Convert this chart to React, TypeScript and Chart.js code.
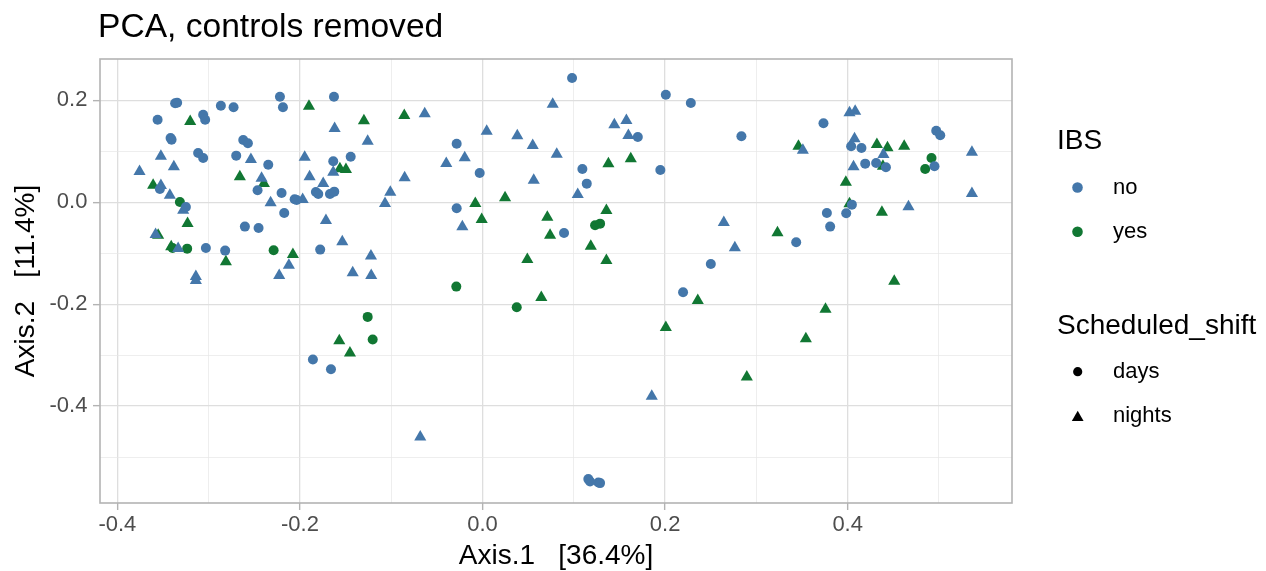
import React, { useEffect, useRef } from "react";
import { Chart, registerables } from "chart.js";
Chart.register(...registerables);

const TITLE = "PCA, controls removed";
const X_TITLE = "Axis.1   [36.4%]";
const Y_TITLE = "Axis.2   [11.4%]";

const X_TICKS = [-0.4, -0.3, -0.2, -0.1, 0, 0.1, 0.2, 0.3, 0.4, 0.5];
const X_LABELS = ["-0.4", "", "-0.2", "", "0.0", "", "0.2", "", "0.4", ""];
const Y_TICKS = [-0.5, -0.4, -0.3, -0.2, -0.1, 0, 0.1, 0.2];
const Y_LABELS = ["", "-0.4", "", "-0.2", "", "0.0", "", "0.2"];
const X_RANGE = [-0.419, 0.58];
const Y_RANGE = [-0.59, 0.281];

const IBS_LEVELS = ["no", "yes"];
const SHIFT_LEVELS = ["days", "nights"];
const IBS_COLORS = ["#4477AA", "#117733"];

// IBS = no, shift = days
const noDays: [number, number][] = [
  [-0.2219, 0.2071], [-0.3367, 0.1941], [-0.3345, 0.1953], [-0.2866, 0.1894], [-0.2727, 0.1863],
  [-0.2186, 0.1863], [-0.3559, 0.162], [-0.306, 0.1718], [-0.3038, 0.162], [-0.3417, 0.1261],
  [-0.3406, 0.1227], [-0.2621, 0.1222], [-0.257, 0.1157], [-0.3115, 0.0967], [-0.306, 0.0869],
  [-0.2698, 0.0914], [-0.2347, 0.0737], [-0.3534, 0.0261], [-0.2464, 0.0235], [-0.2201, 0.0182],
  [-0.1825, 0.0202], [-0.1799, 0.0163], [-0.1671, 0.0163], [-0.1624, 0.0208], [-0.2058, 0.0059],
  [-0.2036, 0.0045], [-0.3249, -0.0092], [-0.2172, -0.021], [-0.2603, -0.0478], [-0.2453, -0.0504],
  [-0.303, -0.0896], [-0.2819, -0.0949], [-0.1778, -0.0929], [-0.1627, 0.2071], [-0.1444, 0.0894],
  [-0.1635, 0.0804], [-0.0283, 0.1149], [-0.0031, 0.0575], [-0.0283, -0.0118], [0.0981, 0.2437],
  [0.2008, 0.211], [0.2282, 0.1947], [0.1701, 0.128], [0.2836, 0.1294], [0.1094, 0.0653],
  [0.1948, 0.0633], [0.1142, 0.0365], [0.0893, -0.0602], [0.2501, -0.121], [0.3735, 0.1549],
  [0.497, 0.1404], [0.5014, 0.1314], [0.4038, 0.1098], [0.4151, 0.1065], [0.4192, 0.0757],
  [0.4312, 0.0771], [0.4419, 0.0686], [0.4951, 0.0706], [0.4046, -0.0047], [0.3772, -0.021],
  [0.3984, -0.0216], [0.3808, -0.0478], [0.3436, -0.0784], [-0.1858, -0.3086], [-0.166, -0.3275],
  [0.2197, -0.1765], [0.1159, -0.5431], [0.1178, -0.5478], [0.1269, -0.5498], [0.1288, -0.551],
];

// IBS = no, shift = nights
const noNights: [number, number][] = [
  [-0.3523, 0.0903], [-0.2537, 0.0839], [-0.1948, 0.0884], [-0.3381, 0.0695], [-0.3757, 0.0603],
  [-0.242, 0.0472], [-0.1894, 0.0499], [-0.1745, 0.0368], [-0.3523, 0.0329], [-0.3425, 0.0139],
  [-0.2321, -0.001], [-0.197, 0.0054], [-0.3279, -0.0155], [-0.1715, -0.0357], [-0.3581, -0.0632],
  [-0.3334, -0.0906], [-0.2121, -0.1234], [-0.2227, -0.1436], [-0.314, -0.1455], [-0.314, -0.1534],
  [0.0769, 0.1923], [-0.0633, 0.1735], [-0.162, 0.1446], [-0.1258, 0.1197], [0.0046, 0.1394],
  [0.0381, 0.1303], [0.055, 0.1113], [0.0813, 0.0943], [-0.1635, 0.059], [-0.0195, 0.0872],
  [-0.0397, 0.076], [-0.0853, 0.048], [0.0561, 0.0433], [-0.101, 0.0197], [-0.1068, -0.0024],
  [-0.0221, -0.0481], [-0.1536, -0.0775], [-0.1222, -0.1057], [-0.1422, -0.1383], [-0.1219, -0.1436],
  [0.1444, 0.1519], [0.1576, 0.1603], [0.1598, 0.1309], [0.1043, 0.0152], [0.2643, -0.0397],
  [0.2764, -0.0893], [0.402, 0.1754], [0.4082, 0.1786], [0.3509, 0.1021], [0.4075, 0.1245],
  [0.4392, 0.0937], [0.5361, 0.0982], [0.4064, 0.0695], [0.5361, 0.0172], [0.4666, -0.0089],
  [-0.0682, -0.4606], [0.1854, -0.3808],
];

// IBS = yes, shift = days
const yesDays: [number, number][] = [
  [-0.3315, 0.0006], [-0.3395, -0.0896], [-0.3235, -0.091], [-0.2288, -0.0941], [0.1233, -0.0451],
  [0.1288, -0.042], [0.4918, 0.0869], [0.4849, 0.0653], [-0.0287, -0.1655], [0.0375, -0.2059],
  [-0.1258, -0.2249], [-0.1203, -0.2694],
];

// IBS = yes, shift = nights
const yesNights: [number, number][] = [
  [-0.1901, 0.1884], [-0.3202, 0.1584], [-0.2658, 0.0499], [-0.2395, 0.0368], [-0.3608, 0.0335],
  [-0.3231, -0.0416], [-0.3553, -0.0646], [-0.341, -0.0873], [-0.2077, -0.1024], [-0.2811, -0.1167],
  [-0.1299, 0.1597], [-0.0857, 0.1701], [-0.1562, 0.0656], [-0.1496, 0.0643], [-0.0079, -0.0024],
  [0.0247, 0.0088], [-0.0009, -0.0338], [0.071, -0.0293], [0.074, -0.0646], [0.0491, -0.1122],
  [0.1379, 0.0754], [0.1624, 0.0852], [0.1357, -0.0161], [0.3231, -0.0599], [0.1186, -0.0861],
  [0.1357, -0.1142], [0.3461, 0.1099], [0.432, 0.1133], [0.4436, 0.1068], [0.4619, 0.1099],
  [0.4386, 0.0707], [0.398, 0.0394], [0.402, -0.003], [0.4375, -0.0195], [0.451, -0.1548],
  [0.0644, -0.1867], [-0.1569, -0.2716], [-0.1452, -0.2959], [0.2358, -0.1926], [0.3757, -0.2097],
  [0.2008, -0.2455], [0.3542, -0.2677], [0.2895, -0.343],
];

const FONT = '"Liberation Sans", Arial, sans-serif';

function drawTriangle(ctx: CanvasRenderingContext2D, x: number, y: number, r: number) {
  ctx.beginPath();
  let rad = 0;
  for (let i = 0; i < 3; i++) {
    const px = x + Math.sin(rad) * r;
    const py = y - Math.cos(rad) * r;
    if (i === 0) ctx.moveTo(px, py);
    else ctx.lineTo(px, py);
    rad += (2 * Math.PI) / 3;
  }
  ctx.closePath();
  ctx.fill();
}

const decorPlugin = {
  id: "decor",
  afterDraw(chart: any) {
    const { ctx, chartArea: a } = chart;
    ctx.save();
    // panel border
    ctx.strokeStyle = "#B3B3B3";
    ctx.lineWidth = 1.6;
    ctx.strokeRect(a.left, a.top, a.right - a.left, a.bottom - a.top);
    // title
    ctx.fillStyle = "#000000";
    ctx.textAlign = "left";
    ctx.textBaseline = "alphabetic";
    ctx.font = `33.6px ${FONT}`;
    ctx.fillText(TITLE, 98, 37);
    // legend: IBS
    ctx.font = `28px ${FONT}`;
    ctx.fillText("IBS", 1057, 149);
    const colorYs = [187.5, 231.7];
    IBS_LEVELS.forEach((lab, i) => {
      ctx.fillStyle = IBS_COLORS[i];
      ctx.beginPath();
      ctx.arc(1077.5, colorYs[i], 5.3, 0, Math.PI * 2);
      ctx.fill();
      ctx.fillStyle = "#000000";
      ctx.font = `22px ${FONT}`;
      ctx.fillText(lab, 1113, colorYs[i] + 6.3);
    });
    // legend: shift
    ctx.font = `28px ${FONT}`;
    ctx.fillText("Scheduled_shift", 1057, 333.5);
    const shapeYs = [371.7, 416];
    SHIFT_LEVELS.forEach((lab, i) => {
      ctx.fillStyle = "#000000";
      if (i === 0) {
        ctx.beginPath();
        ctx.arc(1077.7, shapeYs[i], 4.6, 0, Math.PI * 2);
        ctx.fill();
      } else {
        drawTriangle(ctx, 1077.7, shapeYs[i] + 1.5, 6.8);
      }
      ctx.font = `22px ${FONT}`;
      ctx.fillText(lab, 1113, shapeYs[i] + 6.3);
    });
    ctx.restore();
  },
};

function makeAxis(ticks: number[], labels: string[], range: number[], title: string, isX: boolean) {
  const isMajor = (i: number) => labels[i] !== undefined && labels[i] !== "";
  return {
    type: "linear",
    position: isX ? "bottom" : "left",
    min: range[0],
    max: range[1],
    bounds: "data",
    afterBuildTicks: (scale: any) => {
      scale.ticks = ticks.map((v) => ({ value: v }));
    },
    afterFit: (scale: any) => {
      if (isX) scale.height = 68;
      else scale.width = 100;
    },
    border: { display: false },
    grid: {
      drawOnChartArea: true,
      drawTicks: true,
      tickLength: 7,
      color: (c: any) => (isMajor(c.index) ? "#DEDEDE" : "#E6E6E6"),
      lineWidth: (c: any) => (isMajor(c.index) ? 1.3 : 0.7),
      tickColor: (c: any) => (isMajor(c.index) ? "#B3B3B3" : "rgba(0,0,0,0)"),
      tickWidth: 1.4,
    },
    ticks: {
      autoSkip: false,
      maxRotation: 0,
      minRotation: 0,
      padding: isX ? 3.5 : 5.6,
      color: "#4D4D4D",
      font: { family: FONT, size: 22, lineHeight: 1 },
      callback: (_v: any, i: number) => labels[i] ?? "",
    },
    title: {
      display: true,
      text: title,
      color: "#000000",
      font: { family: FONT, size: 28, lineHeight: 1 },
      padding: isX ? { top: 0, bottom: 1 } : { top: 12.5, bottom: 0 },
    },
  };
}

export default function App() {
  const ref = useRef<HTMLCanvasElement | null>(null);
  useEffect(() => {
    if (!ref.current) return;
    const mk = (data: [number, number][], color: string, style: string, r: number) => ({
      data: data.map(([x, y]) => ({ x, y })),
      backgroundColor: color,
      borderWidth: 0,
      pointStyle: style,
      pointRadius: r,
      pointHoverRadius: r,
    });
    const chart = new Chart(ref.current, {
      type: "scatter",
      data: {
        datasets: [
          mk(noDays, IBS_COLORS[0], "circle", 5),
          mk(noNights, IBS_COLORS[0], "triangle", 7),
          mk(yesDays, IBS_COLORS[1], "circle", 5),
          mk(yesNights, IBS_COLORS[1], "triangle", 7),
        ],
      },
      options: {
        responsive: false,
        animation: false,
        events: [],
        devicePixelRatio: 1,
        layout: { padding: { top: 59, right: 254, bottom: 0, left: 0 } },
        plugins: { legend: { display: false }, tooltip: { enabled: false }, title: { display: false } },
        scales: {
          x: makeAxis(X_TICKS, X_LABELS, X_RANGE, X_TITLE, true) as any,
          y: makeAxis(Y_TICKS, Y_LABELS, Y_RANGE, Y_TITLE, false) as any,
        },
      },
      plugins: [decorPlugin],
    });
    return () => chart.destroy();
  }, []);
  return (
    <div style={{ position: "absolute", left: 0, top: 0, width: 1266, height: 571, background: "#fff" }}>
      <canvas ref={ref} width={1266} height={571} style={{ display: "block" }} />
    </div>
  );
}
